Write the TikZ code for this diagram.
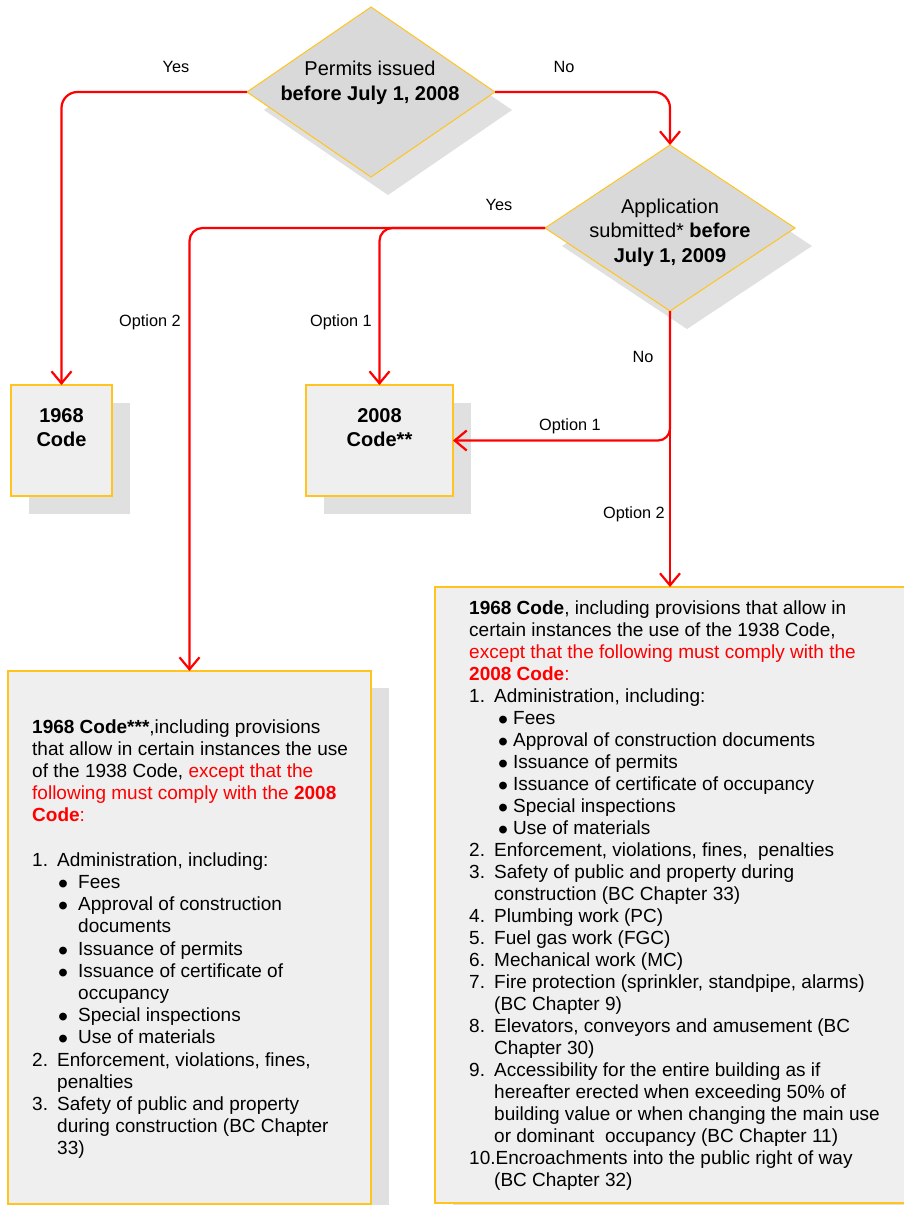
\documentclass[tikz,border=0pt]{standalone}
\usepackage{fontspec}
\usepackage{graphicx}
\setmainfont{Liberation Sans}
\usetikzlibrary{arrows.meta,shapes.geometric}
\definecolor{gold}{RGB}{255,196,30}
\definecolor{diagray}{RGB}{217,217,217}
\definecolor{boxgray}{RGB}{239,239,239}
\definecolor{shadowgray}{RGB}{224,224,224}
\newcommand{\bul}[2]{\hspace*{#1}\makebox[#2][l]{\smash{\raisebox{-5pt}{\scalebox{1.5}{•}}}}}
\begin{document}
\begin{tikzpicture}[x=1pt,y=-1pt,
  conn/.style={draw=red, line width=2.2pt, -{Straight Barb[length=12pt,width=20pt]}},
  dia/.style={diamond, draw=gold, fill=diagray, line width=1pt, inner sep=0pt, outer sep=0pt},
  diashadow/.style={diamond, fill=shadowgray, draw=none, inner sep=0pt, outer sep=0pt},
  box/.style={rectangle, draw=gold, fill=boxgray, line width=1.5pt, inner sep=0pt, outer sep=0pt},
  boxshadow/.style={rectangle, fill=shadowgray, draw=none, inner sep=0pt, outer sep=0pt},
  lbl/.style={font=\fontsize{16.3}{19}\selectfont, inner sep=0pt},
  txt/.style={inner sep=0pt, outer sep=0pt, anchor=base}
]
\clip (0,0) rectangle (904,1205);
\fill[white] (0,0) rectangle (904,1205);

% shadows
\node[diashadow, minimum width=248pt, minimum height=170pt] (d1s) at (388,110) {};
\node[diashadow, minimum width=250pt, minimum height=166pt] (d2s) at (687,246) {};
\node[boxshadow, minimum width=101pt, minimum height=111pt] (b1s) at (79.5,458.5) {};
\node[boxshadow, minimum width=147pt, minimum height=111pt] (b2s) at (397.5,458.5) {};
\node[boxshadow, minimum width=363pt, minimum height=533pt] (bLs) at (207.5,954.5) {};
\node[boxshadow, minimum width=480pt, minimum height=616pt] (bRs) at (693,912) {};

% boxes
\node[box, minimum width=101pt, minimum height=111pt] (b1) at (61.5,440.5) {};
\node[box, minimum width=147pt, minimum height=111pt] (b2) at (379.5,440.5) {};
\node[box, minimum width=363pt, minimum height=533pt] (bL) at (189.5,937.5) {};
\node[box, minimum width=480pt, minimum height=616pt] (bR) at (675,895) {};

% diamonds
\node[dia, minimum width=248pt, minimum height=170pt] (d1) at (371,92) {};
\node[dia, minimum width=250pt, minimum height=166pt] (d2) at (670,228) {};

% connectors
\draw[conn, rounded corners=16pt] (d1.west) -| (b1.north);
\draw[conn, rounded corners=16pt] (d1.east) -| (d2.north);
\draw[conn, rounded corners=13pt] (d2.west) -| (bL.north);
\draw[conn, rounded corners=13pt] (d2.west) -| (b2.north);
\draw[conn] (d2.south) -- (d2.south |- bR.north);
\draw[conn, rounded corners=12pt] (d2.south) |- (b2.east);

% diamond texts
\node[txt] (t1) at (370,75) {\fontsize{20}{25}\selectfont\begin{tabular}[t]{@{}c@{}}Permits issued\\\textbf{before July 1, 2008}\end{tabular}};
\node[txt] (t2) at (670,213) {\fontsize{20}{24.5}\selectfont\begin{tabular}[t]{@{}c@{}}Application\\submitted* \textbf{before}\\\textbf{July 1, 2009}\end{tabular}};
\node[txt] (t3) at (61.5,422) {\fontsize{20}{24}\selectfont\bfseries\begin{tabular}[t]{@{}c@{}}1968\\Code\end{tabular}};
\node[txt] (t4) at (379.5,422) {\fontsize{20}{24}\selectfont\bfseries\begin{tabular}[t]{@{}c@{}}2008\\Code**\end{tabular}};

% labels
\node[lbl] (y1) at (176,67) {Yes};
\node[lbl] (n1) at (564,67) {No};
\node[lbl] (y2) at (499,205) {Yes};
\node[lbl] (o2a) at (150,322) {Option 2};
\node[lbl] (o1a) at (341,322) {Option 1};
\node[lbl] (n2) at (643,357) {No};
\node[lbl] (o1b) at (570,426) {Option 1};
\node[lbl] (o2b) at (634,514) {Option 2};

% left box text
\node[inner sep=0pt, anchor=base west] (tL) at (32,733) {\begin{minipage}[t]{340pt}\fontsize{19}{22.2}\selectfont\raggedright
\textbf{1968 Code***},including provisions\\
that allow in certain instances the use\\
of the 1938 Code, \textcolor{red}{except that the}\\
\textcolor{red}{following must comply with the \textbf{2008}}\\
\textcolor{red}{\textbf{Code}:}\\
\mbox{}\\
\makebox[25pt][l]{1.}Administration, including:\\
\bul{26pt}{20pt}Fees\\
\bul{26pt}{20pt}Approval of construction\\
\hspace*{46pt}documents\\
\bul{26pt}{20pt}Issuance of permits\\
\bul{26pt}{20pt}Issuance of certificate of\\
\hspace*{46pt}occupancy\\
\bul{26pt}{20pt}Special inspections\\
\bul{26pt}{20pt}Use of materials\\
\makebox[25pt][l]{2.}Enforcement, violations, fines,\\
\hspace*{25pt}penalties\\
\makebox[25pt][l]{3.}Safety of public and property\\
\hspace*{25pt}during construction (BC Chapter\\
\hspace*{25pt}33)
\end{minipage}};

% right box text
\node[inner sep=0pt, anchor=base west] (tR) at (469,614) {\begin{minipage}[t]{430pt}\fontsize{19}{22}\selectfont\raggedright
\textbf{1968 Code}, including provisions that allow in\\
certain instances the use of the 1938 Code,\\
\textcolor{red}{except that the following must comply with the}\\
\textcolor{red}{\textbf{2008 Code}:}\\
\makebox[25pt][l]{1.}Administration, including:\\
\bul{29pt}{15pt}Fees\\
\bul{29pt}{15pt}Approval of construction documents\\
\bul{29pt}{15pt}Issuance of permits\\
\bul{29pt}{15pt}Issuance of certificate of occupancy\\
\bul{29pt}{15pt}Special inspections\\
\bul{29pt}{15pt}Use of materials\\
\makebox[25pt][l]{2.}Enforcement, violations, fines,\ \ penalties\\
\makebox[25pt][l]{3.}Safety of public and property during\\
\hspace*{25pt}construction (BC Chapter 33)\\
\makebox[25pt][l]{4.}Plumbing work (PC)\\
\makebox[25pt][l]{5.}Fuel gas work (FGC)\\
\makebox[25pt][l]{6.}Mechanical work (MC)\\
\makebox[25pt][l]{7.}Fire protection (sprinkler, standpipe, alarms)\\
\hspace*{25pt}(BC Chapter 9)\\
\makebox[25pt][l]{8.}Elevators, conveyors and amusement (BC\\
\hspace*{25pt}Chapter 30)\\
\makebox[25pt][l]{9.}Accessibility for the entire building as if\\
\hspace*{25pt}hereafter erected when exceeding 50\% of\\
\hspace*{25pt}building value or when changing the main use\\
\hspace*{25pt}or dominant\ \ occupancy (BC Chapter 11)\\
10.Encroachments into the public right of way\\
\hspace*{25pt}(BC Chapter 32)
\end{minipage}};
\end{tikzpicture}
\end{document}
